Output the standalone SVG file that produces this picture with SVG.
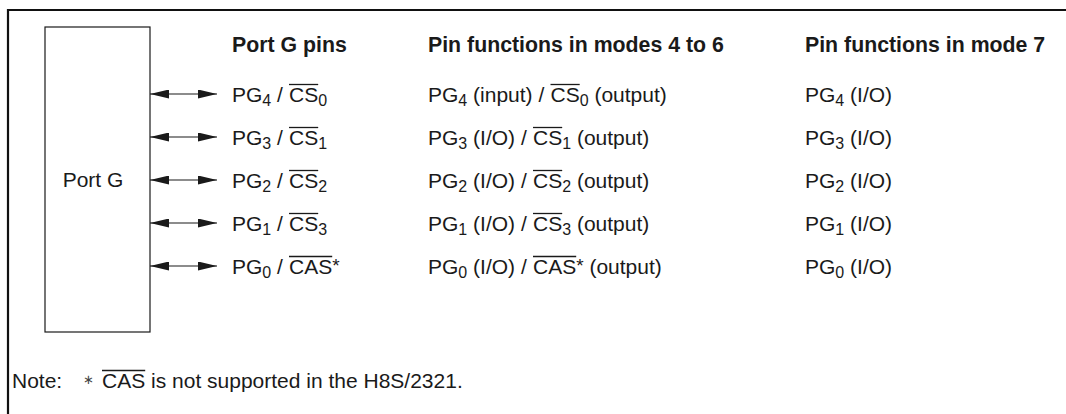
<svg xmlns="http://www.w3.org/2000/svg" width="1066" height="414" viewBox="0 0 1066 414">
<defs>
<marker id="ah" viewBox="0 0 19 9" refX="19" refY="4.5" markerWidth="19" markerHeight="9" markerUnits="userSpaceOnUse" orient="auto-start-reverse">
<path d="M0,0 L19,4.5 L0,9 Z" fill="#1a1a1a"/>
</marker>
<style>
text{font-family:"Liberation Sans",Arial,sans-serif;font-size:21px;fill:#1a1a1a}
.h{font-weight:bold;font-size:21.3px}
.s{font-size:16px}
.ol{stroke:#1a1a1a;stroke-width:1.3}
.ar{stroke:#1a1a1a;stroke-width:1.2;fill:none}
</style>
</defs>
<rect width="1066" height="414" fill="#fff"/>
<path d="M8,414 V10 H1066" fill="none" stroke="#111" stroke-width="2.2"/>
<g id="port-g">
<rect x="45" y="27" width="105" height="305" fill="#fff" stroke="#1a1a1a" stroke-width="1.2"/>
<text x="93" y="187" text-anchor="middle">Port G</text>
</g>
<g id="headers">
<text class="h" x="232" y="52">Port G pins</text>
<text class="h" x="428" y="52">Pin functions in modes 4 to 6</text>
<text class="h" x="805" y="52">Pin functions in mode 7</text>
</g>
<g id="connectors">
<line class="ar" x1="150" y1="94" x2="217" y2="94" marker-start="url(#ah)" marker-end="url(#ah)"/>
<line class="ar" x1="150" y1="137" x2="217" y2="137" marker-start="url(#ah)" marker-end="url(#ah)"/>
<line class="ar" x1="150" y1="180" x2="217" y2="180" marker-start="url(#ah)" marker-end="url(#ah)"/>
<line class="ar" x1="150" y1="223" x2="217" y2="223" marker-start="url(#ah)" marker-end="url(#ah)"/>
<line class="ar" x1="150" y1="266" x2="217" y2="266" marker-start="url(#ah)" marker-end="url(#ah)"/>
</g>
<g id="pg4">
<text x="232" y="102">PG<tspan class="s" dy="4">4</tspan><tspan dy="-4"> / </tspan><tspan x="289">CS</tspan><tspan class="s" dy="4">0</tspan></text>
<line class="ol" x1="289" y1="84.5" x2="318.2" y2="84.5"/>
<text x="428" y="102">PG<tspan class="s" dy="4">4</tspan><tspan dy="-4"> (input) / </tspan><tspan x="550.5">CS</tspan><tspan class="s" dy="4">0</tspan><tspan dy="-4"> (output)</tspan></text>
<line class="ol" x1="550.5" y1="84.5" x2="579.7" y2="84.5"/>
<text x="805" y="102">PG<tspan class="s" dy="4">4</tspan><tspan dy="-4"> (I/O)</tspan></text>
</g>
<g id="pg3">
<text x="232" y="145">PG<tspan class="s" dy="4">3</tspan><tspan dy="-4"> / </tspan><tspan x="289">CS</tspan><tspan class="s" dy="4">1</tspan></text>
<line class="ol" x1="289" y1="127.5" x2="318.2" y2="127.5"/>
<text x="428" y="145">PG<tspan class="s" dy="4">3</tspan><tspan dy="-4"> (I/O) / </tspan><tspan x="533">CS</tspan><tspan class="s" dy="4">1</tspan><tspan dy="-4"> (output)</tspan></text>
<line class="ol" x1="533" y1="127.5" x2="562.2" y2="127.5"/>
<text x="805" y="145">PG<tspan class="s" dy="4">3</tspan><tspan dy="-4"> (I/O)</tspan></text>
</g>
<g id="pg2">
<text x="232" y="188">PG<tspan class="s" dy="4">2</tspan><tspan dy="-4"> / </tspan><tspan x="289">CS</tspan><tspan class="s" dy="4">2</tspan></text>
<line class="ol" x1="289" y1="170.5" x2="318.2" y2="170.5"/>
<text x="428" y="188">PG<tspan class="s" dy="4">2</tspan><tspan dy="-4"> (I/O) / </tspan><tspan x="533">CS</tspan><tspan class="s" dy="4">2</tspan><tspan dy="-4"> (output)</tspan></text>
<line class="ol" x1="533" y1="170.5" x2="562.2" y2="170.5"/>
<text x="805" y="188">PG<tspan class="s" dy="4">2</tspan><tspan dy="-4"> (I/O)</tspan></text>
</g>
<g id="pg1">
<text x="232" y="231">PG<tspan class="s" dy="4">1</tspan><tspan dy="-4"> / </tspan><tspan x="289">CS</tspan><tspan class="s" dy="4">3</tspan></text>
<line class="ol" x1="289" y1="213.5" x2="318.2" y2="213.5"/>
<text x="428" y="231">PG<tspan class="s" dy="4">1</tspan><tspan dy="-4"> (I/O) / </tspan><tspan x="533">CS</tspan><tspan class="s" dy="4">3</tspan><tspan dy="-4"> (output)</tspan></text>
<line class="ol" x1="533" y1="213.5" x2="562.2" y2="213.5"/>
<text x="805" y="231">PG<tspan class="s" dy="4">1</tspan><tspan dy="-4"> (I/O)</tspan></text>
</g>
<g id="pg0">
<text x="232" y="274">PG<tspan class="s" dy="4">0</tspan><tspan dy="-4"> / </tspan><tspan x="289">CAS</tspan><tspan style="font-size:19px" dy="-2">*</tspan></text>
<line class="ol" x1="289" y1="256.5" x2="332.2" y2="256.5"/>
<text x="428" y="274">PG<tspan class="s" dy="4">0</tspan><tspan dy="-4"> (I/O) / </tspan><tspan x="533">CAS</tspan><tspan style="font-size:19px" dy="-2">*</tspan><tspan dy="2"> (output)</tspan></text>
<line class="ol" x1="533" y1="256.5" x2="576.2" y2="256.5"/>
<text x="805" y="274">PG<tspan class="s" dy="4">0</tspan><tspan dy="-4"> (I/O)</tspan></text>
</g>
<g id="note">
<text x="12" y="388">Note:<tspan x="83" dy="-4" font-family="DejaVu Sans, sans-serif" style="font-size:13px;fill:#444">∗</tspan><tspan x="102" dy="4">CAS</tspan><tspan> is not supported in the H8S/2321.</tspan></text>
<line class="ol" x1="102" y1="370.5" x2="145.2" y2="370.5"/>
</g>
</svg>
